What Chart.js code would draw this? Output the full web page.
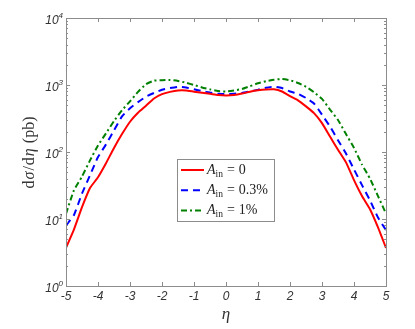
<!DOCTYPE html>
<html>
<head>
<meta charset="utf-8">
<script src="https://cdn.jsdelivr.net/npm/chart.js@4.4.0/dist/chart.umd.min.js"></script>
<style>
  html, body { margin: 0; padding: 0; background: #fff; }
  #wrap { width: 415px; height: 329px; }
</style>
</head>
<body>
<div id="wrap"><canvas id="grafico" width="415" height="329"></canvas></div>
<script>
// Datos (eta vs dσ/dη en pb)
const etaValues = [-5, -4.75, -4.5, -4.25, -4, -3.75, -3.5, -3.25, -3, -2.75, -2.5, -2.25, -2, -1.75, -1.5, -1.25, -1, -0.75, -0.5, -0.25,
  0, 0.25, 0.5, 0.75, 1, 1.25, 1.5, 1.75, 2, 2.25, 2.5, 2.75, 3, 3.25, 3.5, 3.75, 4, 4.25, 4.5, 4.75, 5];
const ain0Values = [3.7, 7, 15, 29, 42, 68, 115, 185, 283, 385, 490, 630, 730, 790, 830, 830, 795, 765, 740, 712,
  700, 710, 745, 795, 835, 860, 865, 800, 680, 590, 480, 380, 270, 170, 108, 70, 38, 22, 14, 7.5, 3.7];
const ain03Values = [8, 11.5, 24, 45, 84, 130, 210, 340, 450, 555, 670, 760, 850, 900, 940, 915, 865, 810, 770, 740,
  735, 740, 760, 800, 850, 910, 945, 900, 800, 740, 640, 530, 360, 240, 150, 95, 55, 32, 19, 10.5, 6.8];
const ain1Values = [12, 27, 43, 75, 125, 190, 290, 420, 570, 790, 1030, 1160, 1180, 1190, 1150, 1080, 1000, 920, 860, 815,
  800, 830, 870, 960, 1060, 1140, 1200, 1225, 1180, 1070, 940, 780, 620, 430, 300, 185, 115, 65, 40, 22, 12];
const xTicks = [-5, -4, -3, -2, -1, 0, 1, 2, 3, 4, 5];
const yExponents = [0, 1, 2, 3, 4];
const legendValues = ['0', '0.3%', '1%'];

function toPoints(values) {
  return etaValues.map((eta, i) => ({ x: eta, y: values[i] }));
}

const GRIS = '#8c8c8c';
const TEXTO = '#333333';

// Plugin para dibujar ejes estilo MATLAB (caja, ticks hacia dentro, etiquetas)
const ejesPlugin = {
  id: 'ejes',
  afterDatasetsDraw(chart) {
    const ctx = chart.ctx;
    const area = chart.chartArea;
    const xs = chart.scales.x;
    const ys = chart.scales.y;
    ctx.save();
    ctx.strokeStyle = GRIS;
    ctx.lineWidth = 1;
    ctx.strokeRect(Math.round(area.left) + 0.5, Math.round(area.top) + 0.5,
      Math.round(area.right - area.left), Math.round(area.bottom - area.top));

    // ticks del eje x
    ctx.beginPath();
    xTicks.forEach(v => {
      const px = Math.round(xs.getPixelForValue(v)) + 0.5;
      ctx.moveTo(px, area.bottom); ctx.lineTo(px, area.bottom - 4);
      ctx.moveTo(px, area.top); ctx.lineTo(px, area.top + 4);
    });
    // ticks del eje y (mayores y menores)
    yExponents.forEach(e => {
      for (let m = 1; m <= 9; m++) {
        const v = m * Math.pow(10, e);
        if (v > 10000) break;
        const py = Math.round(ys.getPixelForValue(v)) + 0.5;
        const len = m === 1 ? 4 : 2;
        ctx.moveTo(area.left, py); ctx.lineTo(area.left + len, py);
        ctx.moveTo(area.right, py); ctx.lineTo(area.right - len, py);
      }
    });
    ctx.stroke();

    // etiquetas del eje x
    ctx.fillStyle = TEXTO;
    ctx.font = 'italic 12px "Liberation Sans", Arial, sans-serif';
    ctx.textAlign = 'center';
    ctx.textBaseline = 'middle';
    xTicks.forEach(v => {
      ctx.fillText(String(v), xs.getPixelForValue(v), area.bottom + 11);
    });

    // etiquetas del eje y: 10^k
    yExponents.forEach(e => {
      const py = ys.getPixelForValue(Math.pow(10, e));
      ctx.font = 'italic 8px "Liberation Sans", Arial, sans-serif';
      const supW = ctx.measureText(String(e)).width;
      const xEnd = area.left - 3;
      ctx.textAlign = 'left';
      ctx.fillText(String(e), xEnd - supW, py - 2);
      ctx.font = 'italic 12px "Liberation Sans", Arial, sans-serif';
      ctx.textAlign = 'right';
      ctx.fillText('10', xEnd - supW, py + 3);
    });

    // título eje x
    ctx.font = 'italic 17px "Liberation Serif", "DejaVu Serif", serif';
    ctx.textAlign = 'center';
    ctx.fillText('η', (area.left + area.right) / 2, area.bottom + 29);

    // título eje y (rotado)
    const partes = [
      ['d', ''], ['σ', 'italic '], ['/', ''], ['d', ''], ['η', 'italic '], [' (pb)', '']
    ];
    ctx.translate(30, (area.top + area.bottom) / 2);
    ctx.rotate(-Math.PI / 2);
    let total = 0;
    partes.forEach(p => {
      ctx.font = p[1] + '16px "Liberation Serif", "DejaVu Serif", serif';
      total += ctx.measureText(p[0]).width + 1;
    });
    let cx = -total / 2;
    ctx.textAlign = 'left';
    partes.forEach(p => {
      ctx.font = p[1] + '16px "Liberation Serif", "DejaVu Serif", serif';
      ctx.fillText(p[0], cx, 0);
      cx += ctx.measureText(p[0]).width + 1;
    });
    ctx.restore();
  }
};

// Plugin para la leyenda dentro del área
const leyendaPlugin = {
  id: 'leyenda',
  afterDraw(chart) {
    const ctx = chart.ctx;
    ctx.save();
    const bx = 177.5, by = 159.5, bw = 97, bh = 62;
    ctx.fillStyle = '#ffffff';
    ctx.fillRect(bx, by, bw, bh);
    ctx.strokeStyle = GRIS;
    ctx.lineWidth = 1;
    ctx.strokeRect(bx, by, bw, bh);
    chart.data.datasets.forEach((ds, i) => {
      const y = 170 + i * 20.3;
      ctx.strokeStyle = ds.borderColor;
      ctx.lineWidth = ds.borderWidth;
      ctx.setLineDash(ds.borderDash || []);
      ctx.beginPath();
      ctx.moveTo(181, y); ctx.lineTo(204, y);
      ctx.stroke();
      ctx.setLineDash([]);
      ctx.fillStyle = '#222';
      ctx.textBaseline = 'middle';
      ctx.textAlign = 'left';
      let x = 207;
      ctx.font = 'italic 14px "Liberation Serif", serif';
      ctx.fillText('A', x, y);
      x += ctx.measureText('A').width;
      ctx.font = '9.5px "Liberation Serif", serif';
      ctx.fillText('in', x, y + 4);
      x += ctx.measureText('in').width + 4;
      ctx.font = '14px "Liberation Serif", serif';
      ctx.fillText('=', x, y);
      x += ctx.measureText('=').width + 4;
      ctx.fillText(legendValues[i], x, y);
    });
    ctx.restore();
  }
};

const ctx = document.getElementById('grafico').getContext('2d');
const grafico = new Chart(ctx, {
  type: 'line',
  data: {
    datasets: [
      { label: 'Ain = 0', data: toPoints(ain0Values), borderColor: '#ff0000', borderWidth: 2, borderDash: [] },
      { label: 'Ain = 0.3%', data: toPoints(ain03Values), borderColor: '#0000ff', borderWidth: 2, borderDash: [7, 5] },
      { label: 'Ain = 1%', data: toPoints(ain1Values), borderColor: '#008000', borderWidth: 2, borderDash: [6, 3, 2, 3] }
    ]
  },
  options: {
    responsive: false,
    animation: false,
    layout: { padding: { left: 66, right: 29, top: 18, bottom: 43 } },
    elements: { point: { radius: 0 }, line: { tension: 0.15, fill: false } },
    scales: {
      x: { type: 'linear', min: -5, max: 5, display: false },
      y: { type: 'logarithmic', min: 1, max: 10000, display: false }
    },
    plugins: {
      legend: { display: false },
      tooltip: { enabled: false }
    }
  },
  plugins: [ejesPlugin, leyendaPlugin]
});
</script>
</body>
</html>
